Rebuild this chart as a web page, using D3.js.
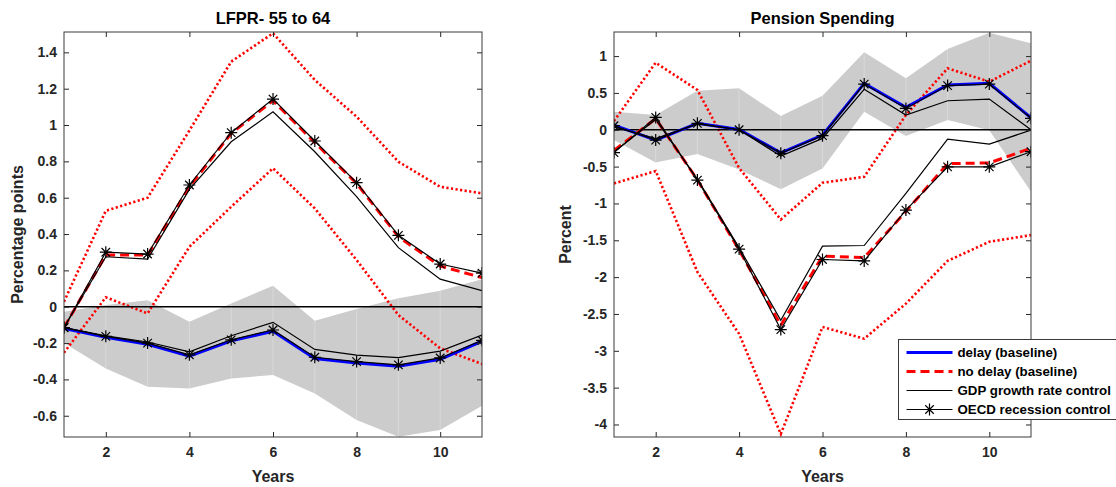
<!DOCTYPE html>
<html>
<head>
<meta charset="utf-8">
<script src="https://cdn.jsdelivr.net/npm/d3@7"></script>
<style>
  html, body { margin: 0; padding: 0; background: #fff; }
  svg { display: block; font-family: "Liberation Sans", Arial, Helvetica, sans-serif; }
</style>
</head>
<body>
<svg id="chart" width="1116" height="487"></svg>
<script>
/* ── data ─────────────────────────────────────────────────────── */
const years = [1, 2, 3, 4, 5, 6, 7, 8, 9, 10, 11];
const xTicks = [2, 4, 6, 8, 10];

// LFPR 55 to 64 (percentage points)
const lfprDelay       = [-0.12, -0.168, -0.207, -0.272, -0.188, -0.135, -0.285, -0.31, -0.328, -0.29, -0.19];
const lfprDelayGdp    = [-0.115, -0.16, -0.194, -0.248, -0.16, -0.086, -0.235, -0.266, -0.28, -0.244, -0.156];
const lfprDelayOecd   = [-0.115, -0.163, -0.2, -0.265, -0.182, -0.128, -0.278, -0.302, -0.32, -0.282, -0.185];
const lfprDelayHi     = [-0.027, 0.01, 0.035, -0.083, 0.018, 0.116, -0.077, -0.013, 0.046, 0.088, 0.151];
const lfprDelayLo     = [-0.2, -0.34, -0.44, -0.45, -0.395, -0.376, -0.477, -0.624, -0.716, -0.679, -0.545];
const lfprNoDelay     = [-0.115, 0.284, 0.284, 0.66, 0.954, 1.134, 0.903, 0.679, 0.385, 0.224, 0.16];
const lfprNoDelayGdp  = [-0.115, 0.275, 0.262, 0.646, 0.908, 1.073, 0.853, 0.606, 0.325, 0.152, 0.088];
const lfprNoDelayOecd = [-0.115, 0.3, 0.29, 0.67, 0.958, 1.143, 0.912, 0.683, 0.393, 0.235, 0.185];
const lfprNoDelayHi   = [0.028, 0.528, 0.6, 0.97, 1.349, 1.505, 1.248, 1.046, 0.798, 0.66, 0.624];
const lfprNoDelayLo   = [-0.253, 0.052, -0.037, 0.33, 0.55, 0.762, 0.541, 0.257, -0.046, -0.229, -0.315];
const lfprYTicks = [-0.6, -0.4, -0.2, 0, 0.2, 0.4, 0.6, 0.8, 1, 1.2, 1.4];

// Pension spending (percent)
const penDelay       = [0.064, -0.14, 0.087, 0.005, -0.312, -0.072, 0.63, 0.304, 0.607, 0.63, 0.163];
const penDelayGdp    = [0.04, -0.12, 0.08, 0.0, -0.357, -0.117, 0.549, 0.2, 0.394, 0.417, 0.0];
const penDelayOecd   = [0.055, -0.14, 0.087, 0.0, -0.32, -0.08, 0.62, 0.29, 0.6, 0.62, 0.155];
const penDelayHi     = [0.245, 0.2, 0.53, 0.562, 0.186, 0.462, 1.052, 0.698, 1.096, 1.318, 1.174];
const penDelayLo     = [-0.14, -0.443, -0.33, -0.54, -0.806, -0.525, 0.245, -0.086, 0.132, -0.005, -0.842];
const penNoDelay     = [-0.28, 0.15, -0.68, -1.63, -2.653, -1.716, -1.734, -1.11, -0.46, -0.45, -0.25];
const penNoDelayGdp  = [-0.3, 0.14, -0.67, -1.6, -2.586, -1.58, -1.571, -0.865, -0.127, -0.195, -0.005];
const penNoDelayOecd = [-0.31, 0.168, -0.683, -1.62, -2.712, -1.761, -1.78, -1.09, -0.503, -0.503, -0.298];
const penNoDelayHi   = [0.12, 0.91, 0.54, -0.52, -1.218, -0.72, -0.638, 0.2, 0.834, 0.652, 0.938];
const penNoDelayLo   = [-0.729, -0.56, -1.93, -2.77, -4.13, -2.677, -2.835, -2.36, -1.78, -1.52, -1.43];
const penYTicks = [-4, -3.5, -3, -2.5, -2, -1.5, -1, -0.5, 0, 0.5, 1];

const legendLabels = ["delay (baseline)", "no delay (baseline)", "GDP growth rate control", "OECD recession control"];

/* ── styles ───────────────────────────────────────────────────── */
const AXIS_COL = "#262626";
const BAND_COL = "#cccccc";
const BLUE = "#0000ff";
const RED  = "#ff0000";

const svg = d3.select("#chart");

function starPath(r) {
  const d = r * 0.7071;
  return `M${-r},0H${r}M0,${-r}V${r}M${-d},${-d}L${d},${d}M${-d},${d}L${d},${-d}`;
}

// ── one panel ─────────────────────────────────────────────────────
function drawPanel(cfg) {
  const { left, right, top, bottom, yDomain, yTicks, id } = cfg;

  const x = d3.scaleLinear().domain([1, 11]).range([left, right]);
  const y = d3.scaleLinear().domain(yDomain).range([bottom, top]);

  const g = svg.append("g");

  g.append("clipPath").attr("id", `clip-${id}`)
    .append("rect")
      .attr("x", left).attr("y", top)
      .attr("width", right - left).attr("height", bottom - top);

  const plot = g.append("g").attr("clip-path", `url(#clip-${id})`);

  const pts = arr => arr.map((v, i) => [years[i], v]);
  const line = d3.line().x(d => x(d[0])).y(d => y(d[1]));

  // confidence band for the delay path
  const area = d3.area()
    .x((d, i) => x(years[i]))
    .y0(d => y(d[0]))
    .y1(d => y(d[1]));
  plot.append("path")
    .datum(cfg.delayLo.map((v, i) => [v, cfg.delayHi[i]]))
    .attr("d", area)
    .attr("fill", BAND_COL);

  // faint patch seams
  plot.append("g").selectAll("line")
    .data(years)
    .join("line")
      .attr("x1", d => x(d)).attr("x2", d => x(d))
      .attr("y1", (d, i) => y(cfg.delayHi[i]))
      .attr("y2", (d, i) => y(cfg.delayLo[i]))
      .attr("stroke", "#fff").attr("stroke-opacity", .45).attr("stroke-width", .6);

  // no-delay bounds
  [cfg.noDelayHi, cfg.noDelayLo].forEach(arr => {
    plot.append("path")
      .attr("d", line(pts(arr)))
      .attr("fill", "none")
      .attr("stroke", RED)
      .attr("stroke-width", 2.6)
      .attr("stroke-dasharray", "2.2,2.4");
  });

  // zero line
  plot.append("line")
    .attr("x1", left).attr("x2", right)
    .attr("y1", y(0)).attr("y2", y(0))
    .attr("stroke", "#000").attr("stroke-width", 1.5);

  plot.append("path")
    .attr("d", line(pts(cfg.delay)))
    .attr("fill", "none").attr("stroke", BLUE).attr("stroke-width", 3);

  plot.append("path")
    .attr("d", line(pts(cfg.noDelay)))
    .attr("fill", "none").attr("stroke", RED).attr("stroke-width", 3)
    .attr("stroke-dasharray", "9,5");

  [cfg.delayGdp, cfg.noDelayGdp, cfg.delayOecd, cfg.noDelayOecd].forEach(arr => {
    plot.append("path")
      .attr("d", line(pts(arr)))
      .attr("fill", "none").attr("stroke", "#000").attr("stroke-width", 1.2);
  });

  [cfg.delayOecd, cfg.noDelayOecd].forEach(arr => {
    plot.append("g").selectAll("path")
      .data(pts(arr))
      .join("path")
        .attr("transform", d => `translate(${x(d[0])},${y(d[1])})`)
        .attr("d", starPath(6))
        .attr("stroke", "#000").attr("stroke-width", 1.2).attr("fill", "none");
  });

  // axes (MATLAB style: box, inward ticks on all four sides)
  const fmt = d => String(+d.toFixed(2));
  const tickLen = 5;

  const axB = d3.axisBottom(x).tickValues(xTicks).tickSize(-tickLen).tickPadding(10).tickFormat(fmt);
  const axT = d3.axisTop(x).tickValues(xTicks).tickSize(-tickLen).tickFormat("");
  const axL = d3.axisLeft(y).tickValues(yTicks).tickSize(-tickLen).tickPadding(7).tickFormat(fmt);
  const axR = d3.axisRight(y).tickValues(yTicks).tickSize(-tickLen).tickFormat("");

  const styleAxis = sel => {
    sel.select(".domain").remove();
    sel.selectAll("line").attr("stroke", AXIS_COL);
    sel.selectAll("text")
      .attr("fill", AXIS_COL)
      .attr("font-size", 14)
      .attr("font-weight", "bold")
      .attr("font-family", "Liberation Sans, Arial, sans-serif");
  };

  g.append("g").attr("transform", `translate(0,${bottom})`).call(axB).call(styleAxis);
  g.append("g").attr("transform", `translate(0,${top})`).call(axT).call(styleAxis);
  g.append("g").attr("transform", `translate(${left},0)`).call(axL).call(styleAxis);
  g.append("g").attr("transform", `translate(${right},0)`).call(axR).call(styleAxis);

  g.append("rect")
    .attr("x", left).attr("y", top)
    .attr("width", right - left).attr("height", bottom - top)
    .attr("fill", "none").attr("stroke", "#3a3a3a").attr("stroke-width", 1);

  // labels
  g.append("text")
    .attr("x", (left + right) / 2).attr("y", 24)
    .attr("text-anchor", "middle")
    .attr("font-size", 16.5).attr("font-weight", "bold").attr("fill", "#000")
    .text(cfg.title);

  g.append("text")
    .attr("x", (left + right) / 2).attr("y", 482)
    .attr("text-anchor", "middle")
    .attr("font-size", 16).attr("font-weight", "bold").attr("fill", AXIS_COL)
    .text("Years");

  g.append("text")
    .attr("transform", `translate(${cfg.ylabelX},${(top + bottom) / 2}) rotate(-90)`)
    .attr("text-anchor", "middle")
    .attr("font-size", 16).attr("font-weight", "bold").attr("fill", AXIS_COL)
    .text(cfg.ylabel);

  return { x, y };
}

drawPanel({
  id: "lfpr", title: "LFPR- 55 to 64", ylabel: "Percentage points", ylabelX: 23,
  left: 64, right: 482, top: 32, bottom: 437,
  yDomain: [-0.717, 1.512], yTicks: lfprYTicks,
  delay: lfprDelay, delayGdp: lfprDelayGdp, delayOecd: lfprDelayOecd,
  delayHi: lfprDelayHi, delayLo: lfprDelayLo,
  noDelay: lfprNoDelay, noDelayGdp: lfprNoDelayGdp, noDelayOecd: lfprNoDelayOecd,
  noDelayHi: lfprNoDelayHi, noDelayLo: lfprNoDelayLo
});

drawPanel({
  id: "pen", title: "Pension Spending", ylabel: "Percent", ylabelX: 571,
  left: 614, right: 1031, top: 32, bottom: 437,
  yDomain: [-4.17, 1.327], yTicks: penYTicks,
  delay: penDelay, delayGdp: penDelayGdp, delayOecd: penDelayOecd,
  delayHi: penDelayHi, delayLo: penDelayLo,
  noDelay: penNoDelay, noDelayGdp: penNoDelayGdp, noDelayOecd: penNoDelayOecd,
  noDelayHi: penNoDelayHi, noDelayLo: penNoDelayLo
});

// ── legend ────────────────────────────────────────────────────────
const leg = svg.append("g");
leg.append("rect")
  .attr("x", 898.5).attr("y", 339.5)
  .attr("width", 240).attr("height", 80)
  .attr("fill", "#fff").attr("stroke", "#3a3a3a").attr("stroke-width", 1);

const legStyles = [
  { stroke: BLUE, width: 3, dash: null, star: false },
  { stroke: RED,  width: 3, dash: "9,5", star: false },
  { stroke: "#000", width: 1.2, dash: null, star: false },
  { stroke: "#000", width: 1.2, dash: null, star: true }
];
const legY = d3.scalePoint().domain(legendLabels).range([352.5, 409.5]);

const item = leg.selectAll("g.item")
  .data(legendLabels)
  .join("g").attr("class", "item")
    .attr("transform", d => `translate(0,${legY(d)})`);

item.append("line")
  .attr("x1", 906.5).attr("x2", 952.5)
  .attr("stroke", (d, i) => legStyles[i].stroke)
  .attr("stroke-width", (d, i) => legStyles[i].width)
  .attr("stroke-dasharray", (d, i) => legStyles[i].dash);

item.filter((d, i) => legStyles[i].star)
  .append("path")
    .attr("transform", "translate(929.5,0)")
    .attr("d", starPath(6))
    .attr("stroke", "#000").attr("stroke-width", 1.2).attr("fill", "none");

item.append("text")
  .attr("x", 957.5).attr("dy", "0.36em")
  .attr("font-size", 13.3).attr("font-weight", "bold").attr("fill", "#000")
  .text(d => d);
</script>
</body>
</html>
